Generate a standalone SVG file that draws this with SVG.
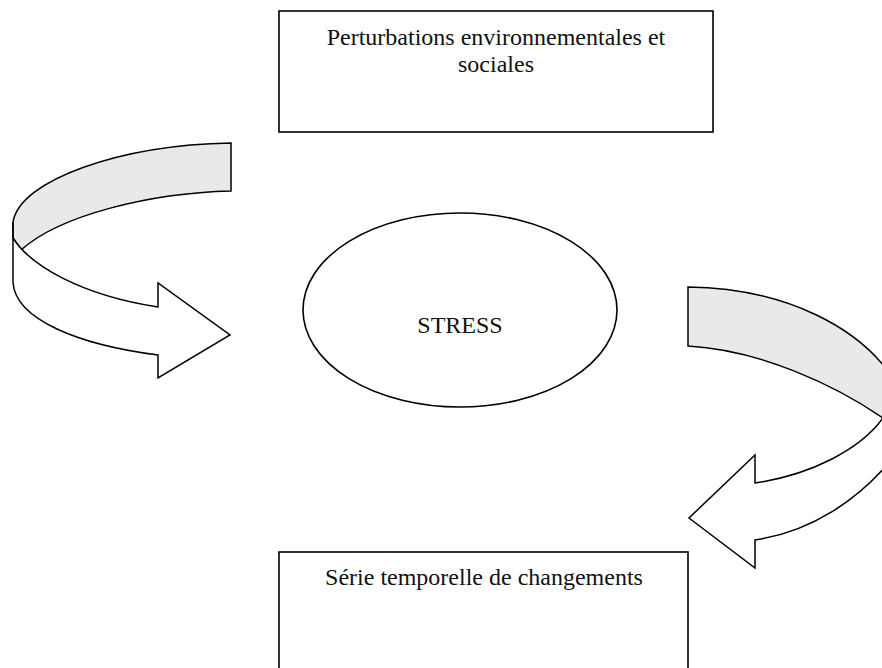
<svg xmlns="http://www.w3.org/2000/svg" width="882" height="668" viewBox="0 0 882 668">
<style>
.box{fill:#fff;stroke:#000;stroke-width:1.6}
.shape{stroke:#000;stroke-width:1.5;stroke-linejoin:miter}
.band{fill:#e9e9e9}
.white{fill:#fff}
.lbl{font-family:"Liberation Serif","Times New Roman",serif;font-size:24px;fill:#111;text-anchor:middle}
</style>
<rect width="882" height="668" fill="#fff"/>
<g id="connectors">
  <g id="arrow-left">
    <path class="shape band" d="M231,143 C120,145 20,180 13,222 L13,238 L21,250 C60,215 150,193 231,191 Z"/>
    <path class="shape white" d="M13,222 L13,282 C15,320 80,345 158,355 L158,378 L230,335 L158,283 L158,307 C80,295 30,265 13,238 Z"/>
  </g>
  <g id="arrow-right">
    <path class="shape band" d="M688,287 C780,288 865,325 900,390 L900,418 L883,418 C835,385 760,350 688,346 Z"/>
    <path class="shape white" d="M883,418 C860,450 810,475 755,483 L755,455 L689,518 L755,568 L755,540 C810,532 860,500 895,455 L900,418 Z"/>
  </g>
</g>
<g id="node-top">
  <rect class="box" x="279" y="11" width="434" height="121"/>
  <text class="lbl" x="496" y="45">Perturbations environnementales et</text>
  <text class="lbl" x="496" y="72">sociales</text>
</g>
<g id="node-stress">
  <ellipse class="box" cx="460" cy="310" rx="157" ry="97"/>
  <text class="lbl" x="460" y="333">STRESS</text>
</g>
<g id="node-bottom">
  <rect class="box" x="279" y="552" width="409" height="140"/>
  <text class="lbl" x="484" y="585">Série temporelle de changements</text>
</g>
</svg>
